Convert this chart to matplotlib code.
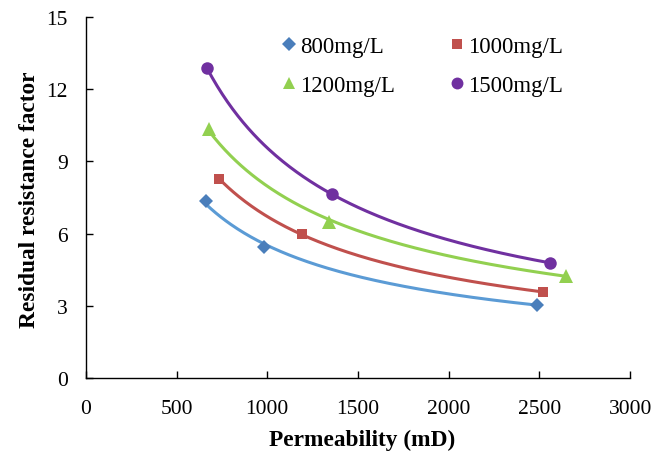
import numpy as np
import matplotlib
matplotlib.use("Agg")
import matplotlib.pyplot as plt

plt.rcParams['font.family'] = ['Liberation Serif', 'DejaVu Serif']

series_names = ["800mg/L", "1000mg/L", "1200mg/L", "1500mg/L"]
perm_800 = [662, 980, 2488]
rrf_800 = [7.35, 5.45, 3.05]
perm_1000 = [734, 1191, 2521]
rrf_1000 = [8.27, 5.98, 3.57]
perm_1200 = [678, 1340, 2648]
rrf_1200 = [10.36, 6.48, 4.26]
perm_1500 = [667, 1357, 2559]
rrf_1500 = [12.88, 7.65, 4.78]

xs = [perm_800, perm_1000, perm_1200, perm_1500]
ys = [rrf_800, rrf_1000, rrf_1200, rrf_1500]
marker_colors = ["#4A7EBB", "#C0504D", "#92D050", "#7030A0"]
line_colors = ["#5B9BD5", "#C0504D", "#92D050", "#7030A0"]
markers = ["D", "s", "^", "o"]
msizes = [7.5, 7.5, 9.5, 9]

fig = plt.figure(figsize=(6.55, 4.52), dpi=100)
ax = fig.add_axes([0.131, 0.1615, 0.831, 0.7985])

handles = []
for x, y, name, mc, lc, m, ms in zip(xs, ys, series_names, marker_colors, line_colors, markers, msizes):
    x = np.array(x, float); y = np.array(y, float)
    b, loga = np.polyfit(np.log(x), np.log(y), 1)
    xx = np.linspace(x.min(), x.max(), 200)
    ax.plot(xx, np.exp(loga) * xx ** b, color=lc, lw=2.2, zorder=2)
    h, = ax.plot(x, y, linestyle='none', marker=m, color=mc, markersize=ms, label=name, zorder=3,
                 markeredgewidth=0)
    handles.append(h)

ax.set_xlim(0, 3000)
ax.set_ylim(0, 15)
ax.set_xticks(np.arange(0, 3001, 500))
ax.set_yticks(np.arange(0, 16, 3))
ax.spines['top'].set_visible(False)
ax.spines['right'].set_visible(False)
for s in ['left', 'bottom']:
    ax.spines[s].set_linewidth(1.0)
ax.tick_params(direction='in', length=5, width=1, labelsize=15.5, pad=13)
ax.tick_params(axis='x', pad=15)
ax.set_xlabel("Permeability (mD)", fontsize=16.8, fontweight='bold', va='center')
ax.set_ylabel("Residual resistance factor", fontsize=16.8, fontweight='bold', va='center')
ax.xaxis.set_label_coords(0.507, -0.169)
ax.yaxis.set_label_coords(-0.104, 0.497)

order = [0, 2, 1, 3]
leg = ax.legend([handles[i] for i in order], [series_names[i] for i in order],
                ncol=2, loc='upper left', bbox_to_anchor=(0.430, 0.919),
                bbox_transform=fig.transFigure, frameon=False, borderpad=0, borderaxespad=0,
                fontsize=16.5, handlelength=0.6, handletextpad=0.2, columnspacing=2.4,
                labelspacing=0.8, markerscale=0.95)

fig.savefig("out.png", dpi=100)
